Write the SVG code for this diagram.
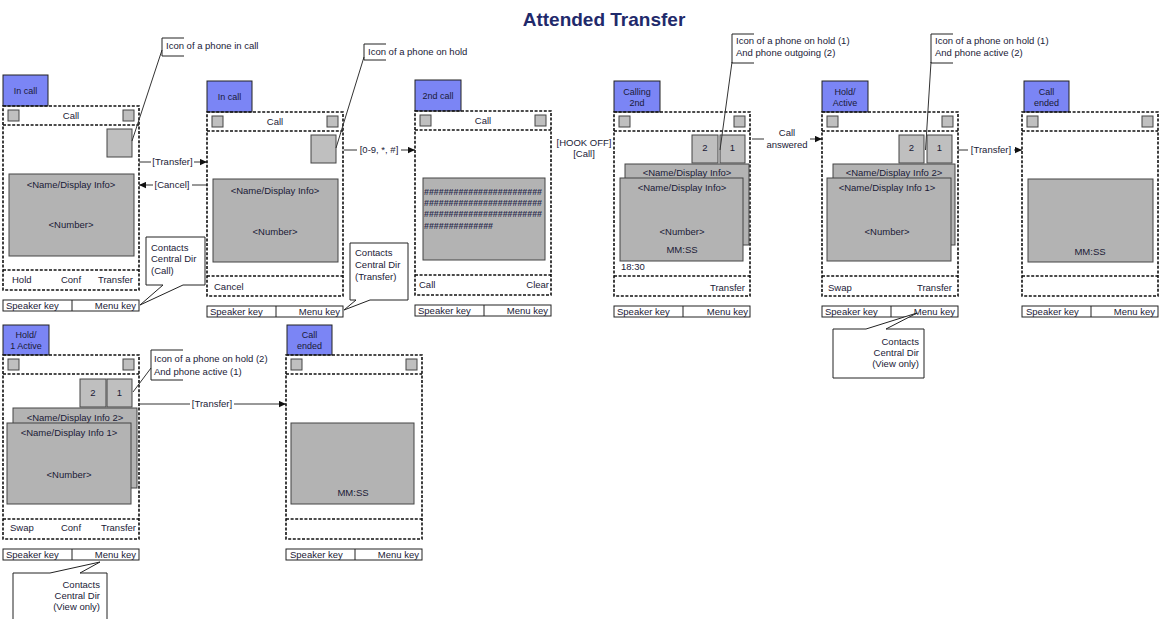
<svg xmlns="http://www.w3.org/2000/svg" xmlns:xlink="http://www.w3.org/1999/xlink" width="1160" height="619" viewBox="0 0 1160 619">
<style>
.out{fill:none;stroke:#111;stroke-width:1.6;stroke-dasharray:3 1.6}
.tab{fill:#7b85f5;stroke:#222;stroke-width:1}
.sq{fill:#bfbfbf;stroke:#444;stroke-width:1}
.disp{fill:#b3b3b3;stroke:#444;stroke-width:1}
.bar{fill:#fff;stroke:#222;stroke-width:1}
.thin{stroke:#222;stroke-width:1;fill:none}
.ln{stroke:#333;stroke-width:1;fill:none}
.co{fill:#fff;stroke:none}
.t{font-family:"Liberation Sans",Arial,sans-serif;font-size:9.5px;fill:#1a1a36}
.tb{font-family:"Liberation Sans",Arial,sans-serif;font-size:9px;fill:#1a1a36}
.h{font-family:"Liberation Sans",Arial,sans-serif;font-size:9.5px;font-weight:bold;fill:#2e2e50}
.c{text-anchor:middle}
.e{text-anchor:end}
.lbg{fill:#fff}
</style>
<defs>
<marker id="ah" viewBox="0 0 10 10" refX="10" refY="5" markerWidth="8" markerHeight="7" orient="auto" markerUnits="userSpaceOnUse"><path d="M0,0.5 L10,5 L0,9.5 z" fill="#111"/></marker>
<g id="frame">
<rect class="out" x="0" y="0" width="136" height="184"/>
<line class="out" x1="0" y1="19" x2="136" y2="19"/>
<line class="out" x1="0" y1="164" x2="136" y2="164"/>
<rect class="sq" x="5" y="4" width="11" height="11"/>
<rect class="sq" x="120" y="4" width="11" height="11"/>
<rect class="bar" x="0" y="194" width="136" height="11"/>
<line class="thin" x1="69" y1="194" x2="69" y2="205"/>
</g>
</defs>
<rect width="1160" height="619" fill="#fff"/>
<text x="604" y="26" text-anchor="middle" font-family="Liberation Sans,Arial,sans-serif" font-weight="bold" font-size="19" fill="#1f2a6b">Attended Transfer</text>

<g id="connectors">
<line class="ln" x1="139" y1="162" x2="207" y2="162" marker-end="url(#ah)"/>
<line class="ln" x1="207" y1="185" x2="139" y2="185" marker-end="url(#ah)"/>
<line class="ln" x1="344" y1="150" x2="415" y2="150" marker-end="url(#ah)"/>
<line class="ln" x1="752" y1="139" x2="822" y2="139" marker-end="url(#ah)"/>
<line class="ln" x1="958" y1="150" x2="1022" y2="150" marker-end="url(#ah)"/>
<line class="ln" x1="140" y1="404" x2="286" y2="404" marker-end="url(#ah)"/>
<rect class="lbg" x="151" y="156" width="43" height="12"/>
<text class="t c" x="172.5" y="165">[Transfer]</text>
<rect class="lbg" x="153" y="179" width="39" height="12"/>
<text class="t c" x="172" y="188">[Cancel]</text>
<rect class="lbg" x="357" y="144" width="44" height="12"/>
<text class="t c" x="379" y="153">[0-9, *, #]</text>
<text class="t c" x="584" y="146">[HOOK OFF]</text>
<text class="t c" x="584" y="157">[Call]</text>
<rect class="lbg" x="764" y="127" width="46" height="23"/>
<text class="t c" x="787" y="136">Call</text>
<text class="t c" x="787" y="148">answered</text>
<rect class="lbg" x="968" y="144" width="46" height="12"/>
<text class="t c" x="991" y="153">[Transfer]</text>
<rect class="lbg" x="190" y="398" width="44" height="12"/>
<text class="t c" x="212" y="407">[Transfer]</text>
</g>

<g id="phone1">
<rect class="tab" x="3" y="75" width="45" height="31"/>
<text class="tb c" x="25.5" y="94">In call</text>
<use xlink:href="#frame" href="#frame" x="3" y="106"/>
<rect class="sq" x="107" y="129" width="25" height="28"/>
<rect class="disp" x="9" y="174" width="125" height="82"/>
<text class="t c" x="71" y="119">Call</text>
<text class="t c" x="71" y="188">&lt;Name/Display Info&gt;</text>
<text class="t c" x="71" y="228">&lt;Number&gt;</text>
<text class="t" x="12" y="283">Hold</text>
<text class="t c" x="71" y="283">Conf</text>
<text class="t e" x="133" y="283">Transfer</text>
<text class="t" x="6" y="309">Speaker key</text>
<text class="t e" x="136" y="309">Menu key</text>
</g>

<g id="phone2">
<rect class="tab" x="207" y="81" width="45" height="31"/>
<text class="tb c" x="229.5" y="100">In call</text>
<use xlink:href="#frame" href="#frame" x="207" y="112"/>
<rect class="sq" x="311" y="135" width="25" height="28"/>
<rect class="disp" x="213" y="179" width="125" height="83"/>
<text class="t c" x="275" y="125">Call</text>
<text class="t c" x="275" y="194">&lt;Name/Display Info&gt;</text>
<text class="t c" x="275" y="235">&lt;Number&gt;</text>
<text class="t" x="214" y="290">Cancel</text>
<text class="t" x="210" y="315">Speaker key</text>
<text class="t e" x="340" y="315">Menu key</text>
</g>

<g id="phone3">
<rect class="tab" x="415" y="80" width="46" height="31"/>
<text class="tb c" x="438" y="99">2nd call</text>
<use xlink:href="#frame" href="#frame" x="415" y="111"/>
<rect class="disp" x="423" y="178" width="122" height="82"/>
<text class="t c" x="483" y="124">Call</text>
<text class="h" x="424" y="195" textLength="118" lengthAdjust="spacingAndGlyphs">########################</text>
<text class="h" x="424" y="206" textLength="118" lengthAdjust="spacingAndGlyphs">########################</text>
<text class="h" x="424" y="217" textLength="118" lengthAdjust="spacingAndGlyphs">########################</text>
<text class="h" x="424" y="229" textLength="69" lengthAdjust="spacingAndGlyphs">##############</text>
<text class="t" x="419" y="288">Call</text>
<text class="t e" x="549" y="288">Clear</text>
<text class="t" x="418" y="314">Speaker key</text>
<text class="t e" x="548" y="314">Menu key</text>
</g>

<g id="phone4">
<rect class="tab" x="614" y="81" width="46" height="31"/>
<text class="tb c" x="637" y="95">Calling</text>
<text class="tb c" x="637" y="106">2nd</text>
<use xlink:href="#frame" href="#frame" x="614" y="112"/>
<rect class="sq" x="692" y="135" width="26" height="28"/>
<text class="t c" x="705" y="151">2</text>
<rect class="sq" x="720" y="135" width="25" height="28"/>
<text class="t c" x="732.5" y="151">1</text>
<rect class="disp" x="625" y="164" width="124" height="81"/>
<text class="t c" x="687" y="176">&lt;Name/Display Info&gt;</text>
<rect class="disp" x="620" y="178" width="123" height="83"/>
<text class="t c" x="682" y="191">&lt;Name/Display Info&gt;</text>
<text class="t c" x="682" y="235">&lt;Number&gt;</text>
<text class="t c" x="682" y="253">MM:SS</text>
<text class="t" x="621" y="270">18:30</text>
<text class="t e" x="745" y="291">Transfer</text>
<text class="t" x="617" y="315">Speaker key</text>
<text class="t e" x="748" y="315">Menu key</text>
</g>

<g id="phone5">
<rect class="tab" x="822" y="81" width="46" height="31"/>
<text class="tb c" x="845" y="95">Hold/</text>
<text class="tb c" x="845" y="106">Active</text>
<use xlink:href="#frame" href="#frame" x="822" y="112"/>
<rect class="sq" x="899" y="135" width="25" height="28"/>
<text class="t c" x="911.5" y="151">2</text>
<rect class="sq" x="927" y="135" width="25" height="28"/>
<text class="t c" x="939.5" y="151">1</text>
<rect class="disp" x="833" y="164" width="122" height="81"/>
<text class="t c" x="894" y="176">&lt;Name/Display Info 2&gt;</text>
<rect class="disp" x="827" y="178" width="124" height="83"/>
<text class="t c" x="887" y="191">&lt;Name/Display Info 1&gt;</text>
<text class="t c" x="887" y="235">&lt;Number&gt;</text>
<text class="t" x="828" y="291">Swap</text>
<text class="t e" x="952" y="291">Transfer</text>
<text class="t" x="825" y="315">Speaker key</text>
<text class="t e" x="955" y="315">Menu key</text>
</g>

<g id="phone6">
<rect class="tab" x="1024" y="81" width="45" height="31"/>
<text class="tb c" x="1046.5" y="95">Call</text>
<text class="tb c" x="1046.5" y="106">ended</text>
<use xlink:href="#frame" href="#frame" x="1022" y="112"/>
<rect class="disp" x="1028" y="179" width="125" height="83"/>
<text class="t c" x="1090" y="255">MM:SS</text>
<text class="t" x="1026" y="315">Speaker key</text>
<text class="t e" x="1155" y="315">Menu key</text>
</g>

<g id="phone7">
<rect class="tab" x="3" y="325" width="46" height="30"/>
<text class="tb c" x="26" y="338">Hold/</text>
<text class="tb c" x="26" y="349">1 Active</text>
<use xlink:href="#frame" href="#frame" x="3" y="355"/>
<rect class="sq" x="80" y="379" width="26" height="28"/>
<text class="t c" x="93" y="396">2</text>
<rect class="sq" x="107" y="379" width="25" height="28"/>
<text class="t c" x="119.5" y="396">1</text>
<rect class="disp" x="13" y="408" width="124" height="80"/>
<text class="t c" x="75" y="421">&lt;Name/Display Info 2&gt;</text>
<rect class="disp" x="7" y="423" width="124" height="81"/>
<text class="t c" x="69" y="436">&lt;Name/Display Info 1&gt;</text>
<text class="t c" x="69" y="478">&lt;Number&gt;</text>
<text class="t" x="10" y="531">Swap</text>
<text class="t c" x="71" y="531">Conf</text>
<text class="t e" x="136" y="531">Transfer</text>
<text class="t" x="6" y="558">Speaker key</text>
<text class="t e" x="136" y="558">Menu key</text>
</g>

<g id="phone8">
<rect class="tab" x="287" y="325" width="45" height="30"/>
<text class="tb c" x="309.5" y="338">Call</text>
<text class="tb c" x="309.5" y="349">ended</text>
<use xlink:href="#frame" href="#frame" x="286" y="355"/>
<rect class="disp" x="291" y="423" width="123" height="81"/>
<text class="t c" x="353" y="496">MM:SS</text>
<text class="t" x="290" y="558">Speaker key</text>
<text class="t e" x="419" y="558">Menu key</text>
</g>

<g id="callout-icon-in-call">
<line class="ln" x1="162" y1="50" x2="132" y2="141"/>
<path class="thin" d="M184,38 H162 V56 H184"/>
<text class="t" x="166" y="49">Icon of a phone in call</text>
</g>
<g id="callout-icon-on-hold">
<line class="ln" x1="364" y1="57" x2="336" y2="148"/>
<path class="thin" d="M386,44 H364 V60 H386"/>
<text class="t" x="368" y="55">Icon of a phone on hold</text>
</g>
<g id="callout-hold-outgoing">
<line class="ln" x1="732" y1="62" x2="720" y2="150"/>
<path class="thin" d="M754,34 H732 V63 H754"/>
<text class="t" x="736" y="44">Icon of a phone on hold (1)</text>
<text class="t" x="736" y="56">And phone outgoing (2)</text>
</g>
<g id="callout-hold-active">
<line class="ln" x1="931" y1="62" x2="925.5" y2="150"/>
<path class="thin" d="M953,34 H931 V63 H953"/>
<text class="t" x="935" y="44">Icon of a phone on hold (1)</text>
<text class="t" x="935" y="56">And phone active (2)</text>
</g>
<g id="callout-hold2-active1">
<line class="ln" x1="151" y1="368" x2="133" y2="392"/>
<path class="thin" d="M183,350 H151 V380 H183"/>
<text class="t" x="154" y="362">Icon of a phone on hold (2)</text>
<text class="t" x="154" y="375">And phone active (1)</text>
</g>

<g id="callout-contacts-call">
<path class="co" d="M183,285 H205 V237 H146 V285 H163 L140,305 Z"/>
<path class="thin" d="M183,285 H205 V237 H146 V285 H163 L140,305 Z"/>
<text class="t" x="151" y="251">Contacts</text>
<text class="t" x="151" y="262">Central Dir</text>
<text class="t" x="151" y="274">(Call)</text>
</g>
<g id="callout-contacts-transfer">
<path class="co" d="M370,300 H408 V243 H350 V300 H356 L344,310 Z"/>
<path class="thin" d="M370,300 H408 V243 H350 V300 H356 L344,310 Z"/>
<text class="t" x="355" y="256">Contacts</text>
<text class="t" x="355" y="268">Central Dir</text>
<text class="t" x="355" y="280">(Transfer)</text>
</g>
<g id="callout-contacts-view1">
<path class="co" d="M866,329 H833 V378 H924 V329 H886 L917,313 Z"/>
<path class="thin" d="M866,329 H833 V378 H924 V329 H886 L917,313 Z"/>
<text class="t e" x="919" y="345">Contacts</text>
<text class="t e" x="919" y="356">Central Dir</text>
<text class="t e" x="919" y="367">(View only)</text>
</g>
<g id="callout-contacts-view2">
<path class="co" d="M13,625 V573 H50 L100,562 L80,573 H107 V625 Z"/>
<path class="thin" d="M13,625 V573 H50 L100,562 L80,573 H107 V625"/>
<text class="t e" x="100" y="588">Contacts</text>
<text class="t e" x="100" y="599">Central Dir</text>
<text class="t e" x="100" y="610">(View only)</text>
</g>
</svg>
